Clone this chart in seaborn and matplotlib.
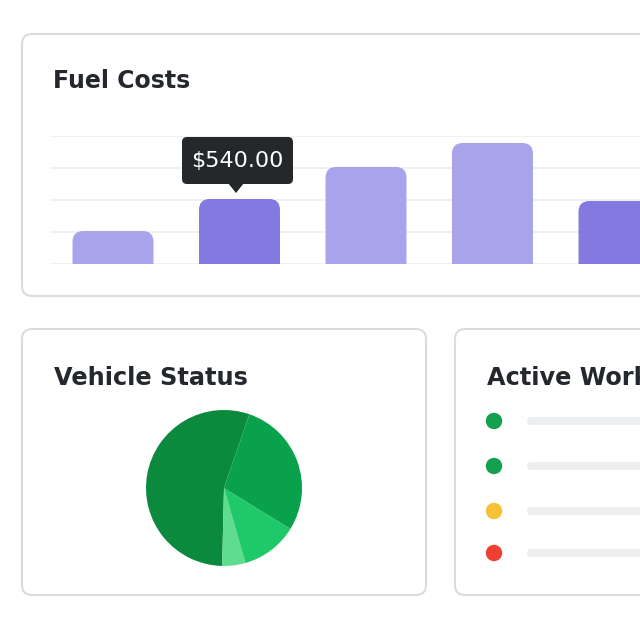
import matplotlib
matplotlib.use("Agg")
import matplotlib.pyplot as plt
import seaborn as sns
import pandas as pd
from matplotlib.patches import FancyBboxPatch, Polygon, Circle

months = ["Jan", "Feb", "Mar", "Apr", "May"]
fuel_costs = [274, 540, 806, 1005, 523]
highlight = [False, True, False, False, True]
status_labels = ["Active", "Retired", "Idle", "In Service"]
status_share = [54.9, 4.8, 11.8, 28.5]
status_colors = ["#0b8a3e", "#5fdc8e", "#1fc96a", "#0aa14c"]
work_colors = ["#13a150", "#13a150", "#f7c137", "#ee4035"]

W, H = 640, 641
fig = plt.figure(figsize=(6.4, 6.41), dpi=100)
fig.patch.set_facecolor("white")

bg = fig.add_axes([0, 0, 1, 1], zorder=0)
bg.set_xlim(0, W); bg.set_ylim(H, 0); bg.axis("off")

def card(x0, y0, x1, y1):
    bg.add_patch(FancyBboxPatch((x0, y0), x1 - x0, y1 - y0,
                                boxstyle="round,pad=0,rounding_size=10",
                                fc="white", ec="#d9dcdf", lw=1.5))
card(22, 34, 700, 296)
card(22, 329, 426, 595)
card(455, 329, 700, 595)

bg.text(53, 81, "Fuel Costs", fontsize=17, color="#24272b", va="center", fontweight="semibold")
bg.text(54, 378, "Vehicle Status", fontsize=17.3, color="#24272b", va="center", fontweight="semibold")
bg.text(487, 378, "Active Work Orders", fontsize=17.3, color="#24272b", va="center", fontweight="semibold")

for i, c in enumerate(work_colors):
    y = [421, 466, 511, 553][i]
    bg.add_patch(Circle((494, y), 7.5, color=c))
    bg.add_patch(FancyBboxPatch((527, y - 4), 200, 8, boxstyle="round,pad=0,rounding_size=4",
                                fc="#eceef0", ec="none"))

ymax = 1063
ax = fig.add_axes([50 / W, (H - 264) / H, 590 / W, 128 / H], zorder=1)
ax.patch.set_alpha(0)
df = pd.DataFrame({"m": months, "v": fuel_costs})
sns.barplot(data=df, x="m", y="v", ax=ax, width=0.64)
step = 126.5
ax.set_xlim((50 - 113) / step, (640 - 113) / step)
ax.set_ylim(0, ymax)
for g in [0, ymax / 4, ymax / 2, 3 * ymax / 4, ymax]:
    ax.axhline(g, color="#eceef0", lw=1.2, zorder=0)
aspect = (ymax / 128) * step
for p, hl in zip(list(ax.patches), highlight):
    x, w, h = p.get_x(), p.get_width(), p.get_height()
    p.remove()
    ax.add_patch(FancyBboxPatch((x, -200), w, h + 200,
                                boxstyle="round,pad=0,rounding_size=0.085",
                                mutation_aspect=aspect,
                                fc="#8479e1" if hl else "#a9a3ec", ec="none", zorder=2))
ax.axis("off")

pax = fig.add_axes([(224 - 78) / W, (H - 488 - 78) / H, 156 / W, 156 / H], zorder=1)
pax.pie(status_share, colors=status_colors, startangle=71, counterclock=True,
        radius=1, wedgeprops=dict(linewidth=0))
pax.set_xlim(-1, 1); pax.set_ylim(-1, 1)
pax.set_aspect("equal")

ov = fig.add_axes([0, 0, 1, 1], zorder=3)
ov.set_xlim(0, W); ov.set_ylim(H, 0); ov.axis("off"); ov.patch.set_alpha(0)
ov.add_patch(FancyBboxPatch((182, 137), 111, 47, boxstyle="round,pad=0,rounding_size=5",
                            fc="#24282b", ec="none"))
ov.add_patch(Polygon([[228, 183], [244, 183], [236, 193]], closed=True, fc="#24282b", ec="none"))
ov.text(237.5, 160.5, f"${fuel_costs[1]:,.2f}", color="white", fontsize=16,
        ha="center", va="center")

fig.savefig("out.png", dpi=100, facecolor="white")
